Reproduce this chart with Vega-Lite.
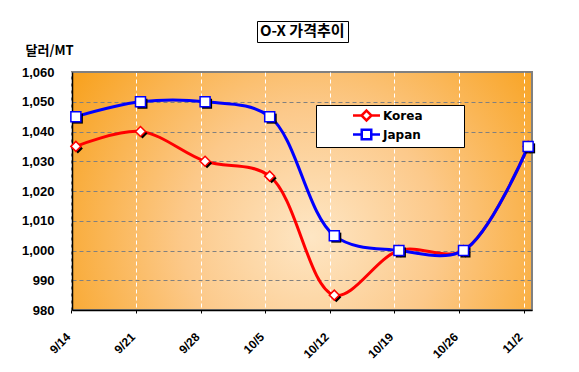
{
  "$schema": "https://vega.github.io/schema/vega-lite/v6.json",
  "width": 460,
  "height": 238,
  "autosize": {"type": "none"},
  "padding": {"left": 72, "top": 72, "right": 47, "bottom": 62},
  "background": "white",
  "data": {
    "values": [
      {"week": "9/14", "series": "Korea", "price": 1035},
      {"week": "9/21", "series": "Korea", "price": 1040},
      {"week": "9/28", "series": "Korea", "price": 1030},
      {"week": "10/5", "series": "Korea", "price": 1025},
      {"week": "10/12", "series": "Korea", "price": 985},
      {"week": "10/19", "series": "Korea", "price": 1000},
      {"week": "10/26", "series": "Korea", "price": 1000},
      {"week": "11/2", "series": "Korea", "price": 1035},
      {"week": "9/14", "series": "Japan", "price": 1045},
      {"week": "9/21", "series": "Japan", "price": 1050},
      {"week": "9/28", "series": "Japan", "price": 1050},
      {"week": "10/5", "series": "Japan", "price": 1045},
      {"week": "10/12", "series": "Japan", "price": 1005},
      {"week": "10/19", "series": "Japan", "price": 1000},
      {"week": "10/26", "series": "Japan", "price": 1000},
      {"week": "11/2", "series": "Japan", "price": 1035}
    ]
  },
  "encoding": {
    "x": {
      "field": "week",
      "type": "ordinal",
      "sort": null,
      "scale": {"type": "point", "padding": 0.06},
      "axis": {
        "title": null,
        "labelAngle": -45,
        "labelFont": "Liberation Sans",
        "labelFontSize": 12,
        "labelFontWeight": "bold",
        "labelColor": "black",
        "labelPadding": 18,
        "labelOffset": -7,
        "tickOffset": -4.5,
        "ticks": true,
        "tickSize": 3,
        "tickColor": "black",
        "domainColor": "black",
        "domainWidth": 1.5,
        "grid": true,
        "gridColor": "white",
        "gridDash": [4, 3],
        "gridWidth": 1
      }
    },
    "y": {
      "field": "price",
      "type": "quantitative",
      "scale": {"domain": [980, 1060], "nice": false, "zero": false},
      "axis": {
        "values": [980, 990, 1000, 1010, 1020, 1030, 1040, 1050, 1060],
        "format": ",.0f",
        "labelFont": "Liberation Sans",
        "labelFontSize": 13,
        "labelFontWeight": "bold",
        "labelColor": "black",
        "labelPadding": 18,
        "ticks": false,
        "domainColor": "black",
        "domainWidth": 1.5,
        "grid": true,
        "gridColor": "#808080",
        "gridDash": [4, 3],
        "gridWidth": 1,
        "title": "달러/MT",
        "titleAngle": 0,
        "titleX": -47,
        "titleY": -22,
        "titleAlign": "left",
        "titleBaseline": "middle",
        "titleFont": "Noto Sans CJK KR",
        "titleFontSize": 13,
        "titleFontWeight": "bold",
        "titleColor": "black"
      }
    },
    "color": {
      "field": "series",
      "type": "nominal",
      "scale": {"domain": ["Korea", "Japan"], "range": ["#ff0000", "#0000ff"]},
      "legend": {
        "orient": "none",
        "legendX": 244,
        "legendY": 33,
        "title": null,
        "fillColor": "white",
        "strokeColor": "black",
        "padding": 2,
        "rowPadding": -3,
        "symbolSize": 196,
        "symbolOffset": 40,
        "labelOffset": 8,
        "symbolStrokeWidth": 2.5,
        "symbolFillColor": "white",
        "symbolOpacity": 1,
        "labelFont": "DejaVu Sans",
        "labelFontSize": 12,
        "labelFontWeight": "bold",
        "labelColor": "black"
      }
    }
  },
  "layer": [
    {"mark": {"type": "line", "interpolate": "catmull-rom", "strokeWidth": 3}},
    {
      "mark": {"type": "point", "filled": false, "opacity": 0},
      "encoding": {
        "shape": {
          "field": "series",
          "type": "nominal",
          "scale": {"domain": ["Korea", "Japan"], "range": ["M-1.93,0H-0.71M0.71,0H1.93M0,-0.71L0.71,0L0,0.71L-0.71,0ZM12.8,0", "M-1.93,0H-0.68M0.68,0H1.93M-0.68,-0.68H0.68V0.68H-0.68ZM12.8,0"]},
          "legend": {"title": null}
        }
      }
    },
    {
      "mark": {"type": "point", "filled": false, "opacity": 0},
      "encoding": {
        "color": {"value": "black"},
        "size": {
          "field": "price",
          "type": "quantitative",
          "legend": {
            "orient": "none",
            "legendX": 185,
            "legendY": -51,
            "values": [],
            "title": "O-X 가격추이",
            "titleFont": "Noto Sans CJK KR",
            "titleFontSize": 15,
            "titleFontWeight": "bold",
            "titleColor": "black",
            "titlePadding": 0,
            "fillColor": "white",
            "strokeColor": "black",
            "padding": 3
          }
        }
      }
    },
    {
      "mark": {"type": "point", "filled": true, "opacity": 1, "size": 100, "xOffset": 2, "yOffset": 2},
      "encoding": {
        "color": {"value": "black"},
        "shape": {"condition": {"test": "datum.series === 'Korea'", "value": "diamond"}, "value": "square"}
      }
    },
    {
      "mark": {"type": "point", "filled": false, "fill": "white", "fillOpacity": 1, "opacity": 1, "strokeWidth": 1.5, "size": 100},
      "encoding": {
        "shape": {"condition": {"test": "datum.series === 'Korea'", "value": "diamond"}, "value": "square"}
      }
    }
  ],
  "config": {
    "view": {
      "fill": {
        "gradient": "radial",
        "x1": 0.52, "y1": 0.6, "r1": 0,
        "x2": 0.52, "y2": 0.6, "r2": 0.62,
        "stops": [
          {"offset": 0, "color": "#fee6c4"},
          {"offset": 0.45, "color": "#fcc98a"},
          {"offset": 1, "color": "#f8a21f"}
        ]
      },
      "stroke": "#808080",
      "strokeWidth": 2
    }
  }
}
